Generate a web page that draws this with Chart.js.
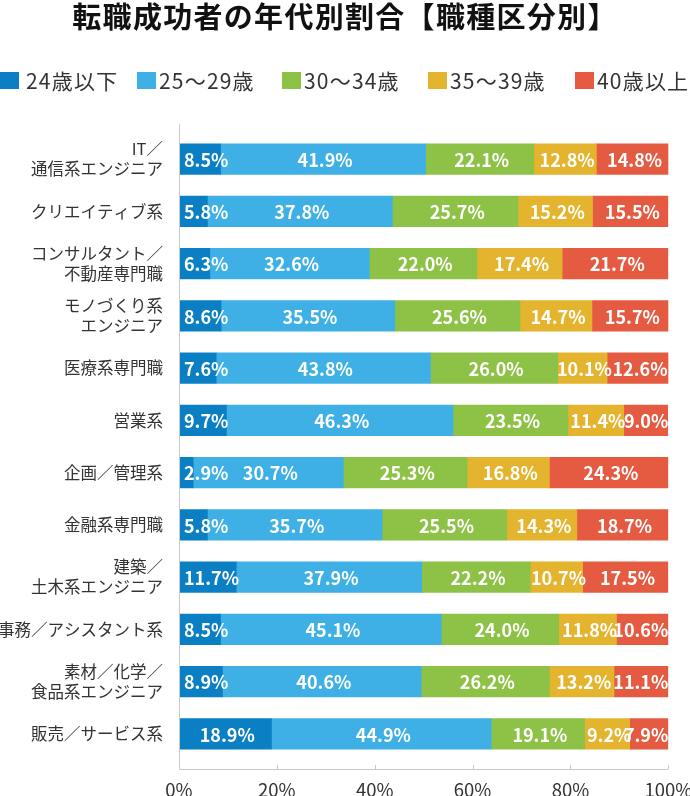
<!DOCTYPE html>
<html lang="ja">
<head>
<meta charset="utf-8">
<script src="https://cdn.jsdelivr.net/npm/chart.js@4.4.1/dist/chart.umd.min.js"></script>
<style>
  html, body { margin: 0; padding: 0; background: #fff; }
  body { width: 690px; height: 796px; position: relative; overflow: hidden;
         font-family: "Noto Sans CJK JP", "Noto Sans", sans-serif; color: #333; }
  #title { position: absolute; left: 0; top: 0px; width: 690px; text-align: center;
           font-size: 29px; line-height: 31px; font-weight: bold; color: #111; letter-spacing: 1.3px; }
  .lg { position: absolute; top: 68px; height: 26px; white-space: nowrap; font-size: 21px; line-height: 26px; color: #333; letter-spacing: 1.2px; }
  .lg .sw { position: absolute; left: 0; top: 4px; width: 19px; height: 17px; }
  .lg .tx { position: absolute; top: -1px; }
  #wrap { position: absolute; left: 0; top: 0; width: 690px; height: 796px; }
</style>
</head>
<body>
<div id="wrap"><canvas id="c" width="690" height="796"></canvas></div>
<div id="title">転職成功者の年代別割合【職種区分別】</div>
<div id="legend"></div>
<script>
// ---- data ----
const categories = [
  ['IT／', '通信系エンジニア'],
  'クリエイティブ系',
  ['コンサルタント／', '不動産専門職'],
  ['モノづくり系', 'エンジニア'],
  '医療系専門職',
  '営業系',
  '企画／管理系',
  '金融系専門職',
  ['建築／', '土木系エンジニア'],
  '事務／アシスタント系',
  ['素材／化学／', '食品系エンジニア'],
  '販売／サービス系'
];
const seriesNames = ['24歳以下', '25～29歳', '30～34歳', '35～39歳', '40歳以上'];
const age24under = [8.5, 5.8, 6.3, 8.6, 7.6, 9.7, 2.9, 5.8, 11.7, 8.5, 8.9, 18.9];
const age25to29  = [41.9, 37.8, 32.6, 35.5, 43.8, 46.3, 30.7, 35.7, 37.9, 45.1, 40.6, 44.9];
const age30to34  = [22.1, 25.7, 22.0, 25.6, 26.0, 23.5, 25.3, 25.5, 22.2, 24.0, 26.2, 19.1];
const age35to39  = [12.8, 15.2, 17.4, 14.7, 10.1, 11.4, 16.8, 14.3, 10.7, 11.8, 13.2, 9.2];
const age40over  = [14.8, 15.5, 21.7, 15.7, 12.6, 9.0, 24.3, 18.7, 17.5, 10.6, 11.1, 7.9];
const xTicks = [0, 20, 40, 60, 80, 100];

const seriesValues = [age24under, age25to29, age30to34, age35to39, age40over];
const colors = ['#0b7fc3', '#3eb0e5', '#8dc246', '#e5b42f', '#e45b42'];

// ---- legend (HTML) ----
const legendPos = [0, 137, 282, 428, 575];
const legendEl = document.getElementById('legend');
seriesNames.forEach((n, i) => {
  const d = document.createElement('div');
  d.className = 'lg';
  d.style.left = legendPos[i] + 'px';
  d.innerHTML = '<span class="sw" style="background:' + colors[i] + '"></span><span class="tx" style="left:' + (i === 0 ? 26 : 22) + 'px">' + n + '</span>';
  legendEl.appendChild(d);
});

// ---- plugins ----
const axisLines = {
  id: 'axisLines',
  afterDraw(chart) {
    const { ctx, chartArea } = chart;
    const xs = chart.scales.x;
    const top = chartArea.top - 9, bottom = chartArea.bottom + 9;
    ctx.save();
    ctx.strokeStyle = '#c9c9c9';
    ctx.lineWidth = 1;
    ctx.beginPath();
    ctx.moveTo(Math.round(chartArea.left) + 0.5, top);
    ctx.lineTo(Math.round(chartArea.left) + 0.5, bottom + 0.5);
    ctx.lineTo(chartArea.right, bottom + 0.5);
    xTicks.forEach(v => {
      const px = Math.round(xs.getPixelForValue(v)) + 0.5;
      if (v === 0) return;
      ctx.moveTo(px, bottom - 4);
      ctx.lineTo(px, bottom + 0.5);
    });
    ctx.stroke();
    ctx.restore();
  }
};

const valueLabels = {
  id: 'valueLabels',
  afterDatasetsDraw(chart) {
    const { ctx, chartArea } = chart;
    ctx.save();
    ctx.font = 'bold 18px "Noto Sans CJK JP", "Noto Sans", sans-serif';
    ctx.fillStyle = '#ffffff';
    ctx.textAlign = 'center';
    ctx.textBaseline = 'middle';
    chart.data.datasets.forEach((ds, di) => {
      const meta = chart.getDatasetMeta(di);
      meta.data.forEach((el, i) => {
        const txt = ds.data[i].toFixed(1) + '%';
        const w = ctx.measureText(txt).width;
        let x = (el.x + el.base) / 2 + 2;
        x = Math.max(x, chartArea.left + 5 + w / 2);
        x = Math.min(x, chartArea.right - w / 2);
        ctx.fillText(txt, x, el.y + 1);
      });
    });
    ctx.restore();
  }
};

// ---- chart ----
Chart.defaults.font.family = '"Noto Sans CJK JP", "Noto Sans", sans-serif';
Chart.defaults.color = '#333';

new Chart(document.getElementById('c'), {
  type: 'bar',
  data: {
    labels: categories,
    datasets: seriesNames.map((n, i) => ({
      label: n,
      data: seriesValues[i],
      backgroundColor: colors[i],
      borderWidth: 0,
      barThickness: 30.5
    }))
  },
  options: {
    indexAxis: 'y',
    responsive: false,
    animation: false,
    devicePixelRatio: 1,
    layout: { padding: { top: 133, left: 0, right: 21.7, bottom: 0 } },
    plugins: {
      legend: { display: false },
      title: { display: false },
      tooltip: { enabled: false }
    },
    scales: {
      x: {
        stacked: true,
        min: 0, max: 100,
        afterBuildTicks(scale) { scale.ticks = xTicks.map(v => ({ value: v })); },
        afterFit(scale) { scale.height = 36; scale.paddingLeft = 0; scale.paddingRight = 0; },
        grid: { display: false, drawTicks: false },
        border: { display: false },
        ticks: {
          font: { size: 18.5 },
          color: '#333',
          padding: 19,
          maxRotation: 0,
          callback: v => v + '%'
        }
      },
      y: {
        stacked: true,
        afterFit(scale) { scale.width = 179; scale.paddingTop = 0; scale.paddingBottom = 0; },
        grid: { display: false, drawTicks: false },
        border: { display: false },
        ticks: {
          font: { size: 16.5, lineHeight: 1.2 },
          color: '#333',
          padding: 16,
          autoSkip: false
        }
      }
    }
  },
  plugins: [axisLines, valueLabels]
});
</script>
</body>
</html>
